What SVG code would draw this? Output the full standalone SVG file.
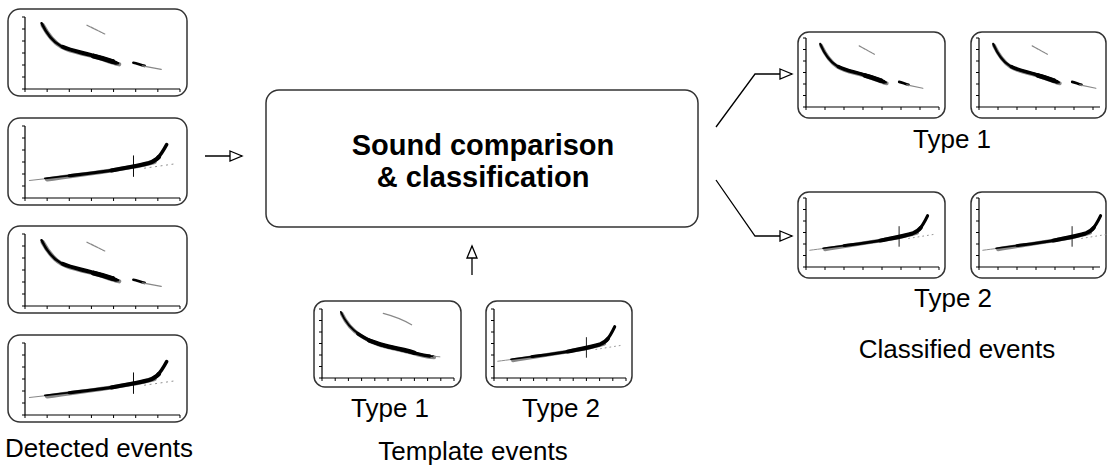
<svg xmlns="http://www.w3.org/2000/svg" xmlns:xlink="http://www.w3.org/1999/xlink" width="1111" height="470" viewBox="0 0 1111 470">
<style>
.box{fill:#fff;stroke:#333;stroke-width:1.5}
.ax{stroke:#000;stroke-width:1.2;fill:none}
.tk{stroke:#000;stroke-width:3;fill:none}
.k{fill:none;stroke:#000;stroke-linecap:round;stroke-linejoin:round}
.g{fill:none;stroke:#888;stroke-linecap:round}
.lbl{font-family:"Liberation Sans",Arial,sans-serif;font-size:26px;fill:#000;text-anchor:middle}
.ttl{font-family:"Liberation Sans",Arial,sans-serif;font-size:29px;font-weight:bold;fill:#000;text-anchor:middle}
.con{fill:none;stroke:#000;stroke-width:1.3}
</style>
<defs>
<marker id="ah" markerUnits="userSpaceOnUse" markerWidth="16" markerHeight="14" refX="13" refY="6" orient="auto">
<path d="M1,1 L13,6 L1,11 Z" fill="#fff" stroke="#000" stroke-width="1.3"/>
</marker>
<g id="c1">
<path class="g" d="M16,8 C20,16 25,24 33,29 C41,34 51,35 61,38 C69,40 77,44 85,46" stroke-width="4" stroke="#c8c8c8"/>
<path class="k" d="M15,6 C19,15 24,23 32,28 C40,33 50,34 60,37 C68,39 76,43 84,45" stroke-width="2.4"/>
<path class="k" d="M34,29 C42,33 50,34 60,37 C68,39 75,42 82,44.5" stroke-width="3.8"/>
<path class="k" d="M62,38 C70,40 74,41.5 79,43.2" stroke-width="4.8"/>
<path class="g" d="M56,8 L72,16.5" stroke-width="1.2" stroke="#999" stroke-dasharray="3 1"/>
<path class="k" d="M98,44.5 C101,45 104,46.5 108,47.5" stroke-width="2.6"/>
<path class="g" d="M106,47.5 L123,51" stroke-width="1.2" stroke="#999"/>
</g>
<g id="c1t">
<path class="g" d="M21,5 C25,13 31,21 41,27 C47,31 53,34 61,36.5 C73,40 87,42 101,46 C109,48 114,49 119,49" stroke-width="4" stroke="#c8c8c8"/>
<path class="k" d="M20,3 C24,12 30,20 40,26 C46,30 52,33 60,35.5 C72,39 86,41 100,45 C108,47 113,48 118,48" stroke-width="2"/>
<path class="k" d="M38,25 C46,30 52,33 60,35.5 C72,39 86,41 100,45 C106,46.5 110,47.3 114,47.7" stroke-width="3.6"/>
<path class="k" d="M50,32 C56,34 62,36 70,38 C80,40 90,42 98,44.5" stroke-width="4.4"/>
<path class="g" d="M65,4.5 C75,7 86,11 95,16" stroke-width="1.3" stroke="#999"/>
<path class="g" d="M118,48 L125,48.5" stroke-width="1" stroke="#ccc"/>
</g>
<g id="c2">
<path class="g" d="M4,53 C16,51.5 24,50.5 32,49.5" stroke-width="1" stroke="#999"/>
<path class="g" d="M20,52 C40,48.5 62,46 82,42.5 C96,40 108,38 117,35" stroke-width="4" stroke="#c8c8c8"/>
<path class="k" d="M18,51 C30,49.5 40,48.3 50,47" stroke-width="1.7"/>
<path class="k" d="M40,48.3 C55,46.5 68,45 82,42.5" stroke-width="3"/>
<path class="k" d="M78,43.2 C92,40.5 104,38.5 112,36 C116,34.5 119,32.5 121,30" stroke-width="4"/>
<path class="k" d="M119,32 C123,28 125,24 128,18" stroke-width="3.2"/>
<path class="k" d="M98,29 L98,49" stroke-width="0.9"/>
<path class="g" d="M108,41 L134,37" stroke-width="0.9" stroke="#ccc" stroke-dasharray="1 4"/>
</g>
</defs>

<g id="connectors">
<line class="con" x1="205" y1="156" x2="242" y2="156" marker-end="url(#ah)"/>
<line class="con" x1="472" y1="275" x2="472" y2="246" marker-end="url(#ah)"/>
<polyline class="con" points="716,127 755,74 792,74" marker-end="url(#ah)"/>
<polyline class="con" points="716,180 755,236 792,236" marker-end="url(#ah)"/>
</g>

<g id="detected1">
<rect class="box" x="8" y="9" width="179" height="87" rx="12"/>
<path class="ax" d="M25,17 V89 H180"/>
<path class="tk" d="M24.5,90.5 H180.5" stroke-dasharray="1 21.14"/>
<path class="tk" d="M23.5,16.5 V89.5" stroke-dasharray="1 11"/>
<use xlink:href="#c1" transform="translate(25,17) scale(1.107,1.029)"/>
</g>
<g id="detected2">
<rect class="box" x="8" y="118" width="179" height="87" rx="12"/>
<path class="ax" d="M25,126 V198 H180"/>
<path class="tk" d="M24.5,199.5 H180.5" stroke-dasharray="1 21.14"/>
<path class="tk" d="M23.5,125.5 V198.5" stroke-dasharray="1 11"/>
<use xlink:href="#c2" transform="translate(25,126) scale(1.107,1.029)"/>
</g>
<g id="detected3">
<rect class="box" x="8" y="226" width="179" height="87" rx="12"/>
<path class="ax" d="M25,234 V306 H180"/>
<path class="tk" d="M24.5,307.5 H180.5" stroke-dasharray="1 21.14"/>
<path class="tk" d="M23.5,233.5 V306.5" stroke-dasharray="1 11"/>
<use xlink:href="#c1" transform="translate(25,234) scale(1.107,1.029)"/>
</g>
<g id="detected4">
<rect class="box" x="8" y="335" width="179" height="87" rx="12"/>
<path class="ax" d="M25,343 V415 H180"/>
<path class="tk" d="M24.5,416.5 H180.5" stroke-dasharray="1 21.14"/>
<path class="tk" d="M23.5,342.5 V415.5" stroke-dasharray="1 11"/>
<use xlink:href="#c2" transform="translate(25,343) scale(1.107,1.029)"/>
</g>
<text class="lbl" x="99" y="457">Detected events</text>

<g id="classifier">
<rect class="box" x="266" y="90" width="432" height="137" rx="13"/>
<text class="ttl" x="483" y="155">Sound comparison</text>
<text class="ttl" x="483" y="187">&amp; classification</text>
</g>

<g id="template1">
<rect class="box" x="314" y="301" width="147" height="86" rx="11"/>
<path class="ax" d="M322,309 V378 H454"/>
<path class="tk" d="M321.5,379.5 H454.5" stroke-dasharray="1 12.2"/>
<path class="tk" d="M320.5,308.5 V378.5" stroke-dasharray="1 10.5"/>
<use xlink:href="#c1t" transform="translate(322,309) scale(0.943,0.986)"/>
<text class="lbl" x="390" y="417">Type 1</text>
</g>
<g id="template2">
<rect class="box" x="486" y="301" width="146" height="86" rx="11"/>
<path class="ax" d="M494,309 V378 H626"/>
<path class="tk" d="M493.5,379.5 H626.5" stroke-dasharray="1 12.2"/>
<path class="tk" d="M492.5,308.5 V378.5" stroke-dasharray="1 10.5"/>
<use xlink:href="#c2" transform="translate(494,309) scale(0.943,0.986)"/>
<text class="lbl" x="561" y="417">Type 2</text>
</g>
<text class="lbl" x="473" y="460">Template events</text>

<g id="class1a">
<rect class="box" x="798" y="32" width="147" height="86" rx="11"/>
<path class="ax" d="M806,38 V107 H939"/>
<path class="tk" d="M805.5,108.5 H939.5" stroke-dasharray="1 18"/>
<path class="tk" d="M804.5,37.5 V107.5" stroke-dasharray="1 10.5"/>
<use xlink:href="#c1" transform="translate(806,38) scale(0.95,0.986)"/>
</g>
<g id="class1b">
<rect class="box" x="971" y="32" width="135" height="86" rx="11"/>
<path class="ax" d="M979,38 V107 H1100"/>
<path class="tk" d="M978.5,108.5 H1094" stroke-dasharray="1 18"/>
<path class="tk" d="M977.5,37.5 V107.5" stroke-dasharray="1 10.5"/>
<use xlink:href="#c1" transform="translate(979,38) scale(0.95,0.986)"/>
</g>
<text class="lbl" x="952" y="148">Type 1</text>
<g id="class2a">
<rect class="box" x="798" y="192" width="147" height="86" rx="11"/>
<path class="ax" d="M806,198 V267 H939"/>
<path class="tk" d="M805.5,268.5 H939.5" stroke-dasharray="1 18"/>
<path class="tk" d="M804.5,197.5 V267.5" stroke-dasharray="1 10.5"/>
<use xlink:href="#c2" transform="translate(806,198) scale(0.95,0.986)"/>
</g>
<g id="class2b">
<rect class="box" x="971" y="192" width="135" height="86" rx="11"/>
<path class="ax" d="M979,198 V267 H1100"/>
<path class="tk" d="M978.5,268.5 H1094" stroke-dasharray="1 18"/>
<path class="tk" d="M977.5,197.5 V267.5" stroke-dasharray="1 10.5"/>
<use xlink:href="#c2" transform="translate(979,198) scale(0.95,0.986)"/>
</g>
<text class="lbl" x="953" y="307">Type 2</text>
<text class="lbl" x="957" y="358">Classified events</text>
</svg>
